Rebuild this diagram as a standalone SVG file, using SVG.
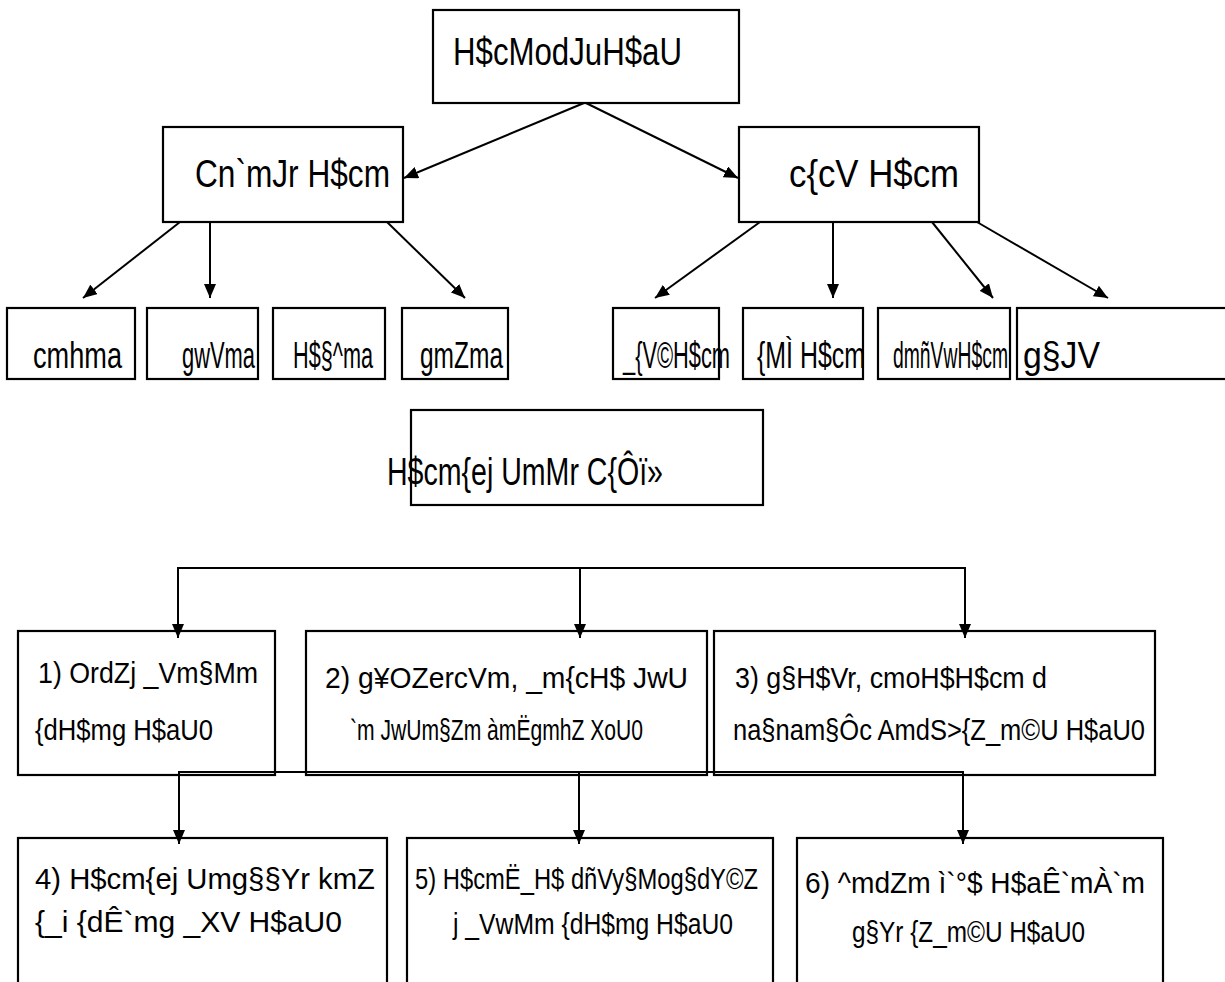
<svg xmlns="http://www.w3.org/2000/svg" width="1225" height="982" viewBox="0 0 1225 982">
<style>
.box{fill:#fff;stroke:#000;stroke-width:2.2}
.ln{fill:none;stroke:#000;stroke-width:2}
text{font-family:"Liberation Sans Narrow","Liberation Sans",Arial,sans-serif;fill:#000}
.t1{font-size:38px}
.t2{font-size:37px}
.t3{font-size:29px}
</style>
<defs>
<marker id="ah" viewBox="0 0 14 12" refX="14" refY="6" markerWidth="14" markerHeight="12" markerUnits="userSpaceOnUse" orient="auto">
<path d="M0,0 L14,6 L0,12 z" fill="#000"/>
</marker>
</defs>
<g id="n-root"><rect class="box" x="433" y="10" width="306" height="93"/><text class="t1" x="453" y="65" textLength="229" lengthAdjust="spacingAndGlyphs">H$cModJuH$aU</text></g>
<g id="n-applied"><rect class="box" x="163" y="127" width="240" height="95"/><text class="t1" x="195" y="187" textLength="195" lengthAdjust="spacingAndGlyphs">Cn`mJr H$cm</text></g>
<g id="n-fine"><rect class="box" x="739" y="127" width="240" height="95"/><text class="t1" x="789" y="187" textLength="170" lengthAdjust="spacingAndGlyphs">c{cV H$cm</text></g>
<g id="n-a1"><rect class="box" x="7" y="308" width="128" height="71"/><text class="t2" x="33" y="368" textLength="89" lengthAdjust="spacingAndGlyphs">cmhma</text></g>
<g id="n-a2"><rect class="box" x="147" y="308" width="111" height="71"/><text class="t2" x="182" y="368" textLength="73" lengthAdjust="spacingAndGlyphs">gwVma</text></g>
<g id="n-a3"><rect class="box" x="273" y="308" width="112" height="71"/><text class="t2" x="293" y="368" textLength="80" lengthAdjust="spacingAndGlyphs">H$§^ma</text></g>
<g id="n-a4"><rect class="box" x="402" y="308" width="106" height="71"/><text class="t2" x="420" y="368" textLength="83" lengthAdjust="spacingAndGlyphs">gmZma</text></g>
<g id="n-f1"><rect class="box" x="613" y="308" width="106" height="71"/><text class="t2" x="623" y="368" textLength="107" lengthAdjust="spacingAndGlyphs">_{V©H$cm</text></g>
<g id="n-f2"><rect class="box" x="743" y="308" width="120" height="71"/><text class="t2" x="757" y="368" textLength="108" lengthAdjust="spacingAndGlyphs">{MÌ H$cm</text></g>
<g id="n-f3"><rect class="box" x="878" y="308" width="132" height="71"/><text class="t2" x="893" y="368" textLength="115" lengthAdjust="spacingAndGlyphs">dmñVwH$cm</text></g>
<g id="n-f4"><rect class="box" x="1017" y="308" width="220" height="71"/><text class="t2" x="1023" y="368" textLength="77" lengthAdjust="spacingAndGlyphs">g§JV</text></g>
<g id="n-goals"><rect class="box" x="411" y="410" width="352" height="95"/><text class="t1" x="387" y="485" textLength="276" lengthAdjust="spacingAndGlyphs">H$cm{ej UmMr C{Ôï»</text></g>
<g id="n-g1"><rect class="box" x="18" y="631" width="257" height="144"/><text class="t3" x="38" y="683" textLength="220" lengthAdjust="spacingAndGlyphs">1) OrdZj _Vm§Mm</text><text class="t3" x="35" y="740" textLength="178" lengthAdjust="spacingAndGlyphs">{dH$mg H$aU0</text></g>
<g id="n-g2"><rect class="box" x="306" y="631" width="401" height="144"/><text class="t3" x="325" y="688" textLength="363" lengthAdjust="spacingAndGlyphs">2) g¥OZercVm, _m{cH$ JwU</text><text class="t3" x="350" y="740" textLength="293" lengthAdjust="spacingAndGlyphs">`m JwUm§Zm àmËgmhZ XoU0</text></g>
<g id="n-g3"><rect class="box" x="714" y="631" width="441" height="144"/><text class="t3" x="735" y="688" textLength="312" lengthAdjust="spacingAndGlyphs">3) g§H$Vr, cmoH$H$cm d</text><text class="t3" x="733" y="740" textLength="412" lengthAdjust="spacingAndGlyphs">na§nam§Ôc AmdS&gt;{Z_m©U H$aU0</text></g>
<g id="n-g4"><rect class="box" x="18" y="838" width="369" height="160"/><text class="t3" x="35" y="889" textLength="340" lengthAdjust="spacingAndGlyphs">4) H$cm{ej Umg§§Yr kmZ</text><text class="t3" x="35" y="932" textLength="307" lengthAdjust="spacingAndGlyphs">{_i {dÊ`mg _XV H$aU0</text></g>
<g id="n-g5"><rect class="box" x="407" y="838" width="366" height="160"/><text class="t3" x="415" y="889" textLength="343" lengthAdjust="spacingAndGlyphs">5) H$cmË_H$ dñVy§Mog§dY©Z</text><text class="t3" x="453" y="934" textLength="280" lengthAdjust="spacingAndGlyphs">j _VwMm {dH$mg H$aU0</text></g>
<g id="n-g6"><rect class="box" x="797" y="838" width="366" height="160"/><text class="t3" x="805" y="893" textLength="340" lengthAdjust="spacingAndGlyphs">6) ^mdZm ì`°$ H$aÊ`mÀ`m</text><text class="t3" x="852" y="942" textLength="233" lengthAdjust="spacingAndGlyphs">g§Yr {Z_m©U H$aU0</text></g>
<g id="connectors">
<line class="ln" x1="584" y1="103" x2="404" y2="178" marker-end="url(#ah)"/>
<line class="ln" x1="586" y1="103" x2="738" y2="178" marker-end="url(#ah)"/>
<line class="ln" x1="180" y1="222" x2="83" y2="298" marker-end="url(#ah)"/>
<line class="ln" x1="210" y1="222" x2="210" y2="298" marker-end="url(#ah)"/>
<line class="ln" x1="387" y1="222" x2="465" y2="298" marker-end="url(#ah)"/>
<line class="ln" x1="760" y1="222" x2="655" y2="298" marker-end="url(#ah)"/>
<line class="ln" x1="833" y1="222" x2="833" y2="298" marker-end="url(#ah)"/>
<line class="ln" x1="932" y1="222" x2="993" y2="298" marker-end="url(#ah)"/>
<line class="ln" x1="977" y1="222" x2="1108" y2="298" marker-end="url(#ah)"/>
<polyline class="ln" points="178,568 965,568"/>
<line class="ln" x1="178" y1="567" x2="178" y2="638" marker-end="url(#ah)"/>
<line class="ln" x1="580" y1="568" x2="580" y2="638" marker-end="url(#ah)"/>
<line class="ln" x1="965" y1="567" x2="965" y2="638" marker-end="url(#ah)"/>
<polyline class="ln" points="178,772 964,772"/>
<line class="ln" x1="179" y1="771" x2="179" y2="844" marker-end="url(#ah)"/>
<line class="ln" x1="579" y1="772" x2="579" y2="844" marker-end="url(#ah)"/>
<line class="ln" x1="963" y1="771" x2="963" y2="844" marker-end="url(#ah)"/>
</g>
</svg>
